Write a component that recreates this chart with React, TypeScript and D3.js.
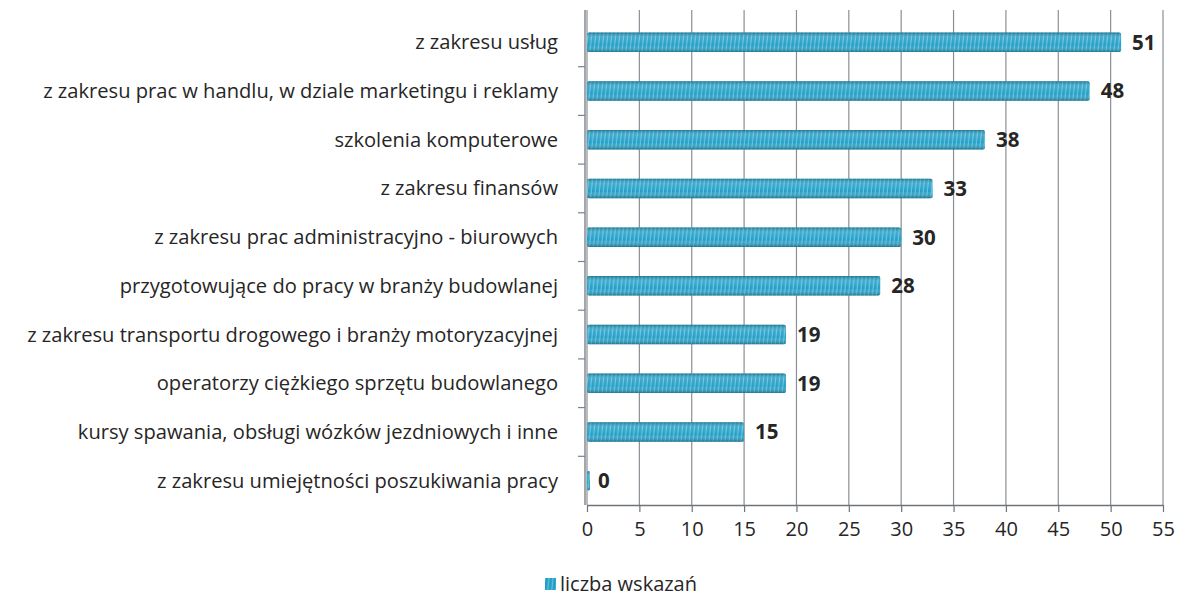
import { useEffect, useRef } from 'react';
import * as d3 from 'd3';

// categories, top to bottom
const categories = [
  'z zakresu usług',
  'z zakresu prac w handlu, w dziale marketingu i reklamy',
  'szkolenia komputerowe',
  'z zakresu finansów',
  'z zakresu prac administracyjno - biurowych',
  'przygotowujące do pracy w branży budowlanej',
  'z zakresu transportu drogowego i branży motoryzacyjnej',
  'operatorzy ciężkiego sprzętu budowlanego',
  'kursy spawania, obsługi wózków jezdniowych i inne',
  'z zakresu umiejętności poszukiwania pracy',
];
const values = [51, 48, 38, 33, 30, 28, 19, 19, 15, 0];
const xTicks = [0, 5, 10, 15, 20, 25, 30, 35, 40, 45, 50, 55];
const seriesName = 'liczba wskazań';

const width = 1181;
const height = 609;
const font = 'Open Sans, sans-serif';
const textColor = '#262626';

const App = () => {
  const svgRef = useRef<SVGSVGElement | null>(null);

  useEffect(() => {
    const svg = d3.select(svgRef.current);
    svg.selectAll('*').remove();

    const margin = { top: 18, right: 18, bottom: 104, left: 587 };

    const x = d3.scaleLinear()
      .domain([0, 55])
      .range([margin.left, width - margin.right]);

    const y = d3.scaleBand()
      .domain(categories)
      .range([margin.top, height - margin.bottom])
      .paddingInner(0.6)
      .paddingOuter(0.3);

    const bottom = height - margin.bottom;

    // striped "spring" pattern + cylinder shading
    const defs = svg.append('defs');
    const pat = defs.append('pattern')
      .attr('id', 'stripes')
      .attr('patternUnits', 'userSpaceOnUse')
      .attr('width', 4)
      .attr('height', 20)
      .attr('patternTransform', 'skewX(-6)');
    pat.append('rect').attr('width', 4).attr('height', 20).attr('fill', '#239fc7');
    pat.append('rect').attr('x', 2.8).attr('width', 1.1).attr('height', 20).attr('fill', '#6cc6e0');

    const grad = defs.append('linearGradient')
      .attr('id', 'shade')
      .attr('x1', 0).attr('y1', 0).attr('x2', 0).attr('y2', 1);
    grad.append('stop').attr('offset', '0%').attr('stop-color', '#0a4e66').attr('stop-opacity', 0.5);
    grad.append('stop').attr('offset', '30%').attr('stop-color', '#ffffff').attr('stop-opacity', 0.12);
    grad.append('stop').attr('offset', '65%').attr('stop-color', '#ffffff').attr('stop-opacity', 0);
    grad.append('stop').attr('offset', '100%').attr('stop-color', '#0a4e66').attr('stop-opacity', 0.55);

    // gridlines
    svg.append('g')
      .selectAll('line')
      .data(xTicks)
      .join('line')
      .attr('x1', (d) => x(d))
      .attr('x2', (d) => x(d))
      .attr('y1', 10)
      .attr('y2', bottom)
      .attr('stroke', '#8a8f96')
      .attr('stroke-width', 1.2);

    // left axis line + ticks between categories
    svg.append('line')
      .attr('x1', x(0) - 2).attr('x2', x(0) - 2)
      .attr('y1', 10).attr('y2', bottom)
      .attr('stroke', '#7d8288').attr('stroke-width', 1.4);

    const sep = categories.map((c) => (y(c) ?? 0) - (y.step() - y.bandwidth()) / 2);
    svg.append('g')
      .selectAll('line')
      .data(sep.slice(1))
      .join('line')
      .attr('x1', x(0) - 9).attr('x2', x(0) - 2)
      .attr('y1', (d) => d).attr('y2', (d) => d)
      .attr('stroke', '#7d8288').attr('stroke-width', 1.2);

    // bottom axis
    const xAxis = svg.append('g')
      .attr('transform', `translate(0, ${bottom})`)
      .call(d3.axisBottom(x).tickValues(xTicks).tickSize(7).tickPadding(10).tickSizeOuter(0));
    xAxis.select('.domain').attr('stroke', '#6f747a').attr('stroke-width', 1.4);
    xAxis.selectAll('.tick line').attr('stroke', '#6f747a').attr('stroke-width', 1.2);
    xAxis.selectAll('.tick text')
      .attr('font-family', font)
      .attr('font-size', 20)
      .attr('fill', textColor);

    // bars
    const rows = categories.map((c, i) => ({ name: c, value: values[i] }));
    const barW = (d: { value: number }) => Math.max(x(d.value) - x(0), 3);

    const bars = svg.append('g');
    bars.selectAll('rect.fill')
      .data(rows)
      .join('rect')
      .attr('class', 'fill')
      .attr('x', x(0))
      .attr('y', (d) => y(d.name) ?? 0)
      .attr('width', barW)
      .attr('height', y.bandwidth())
      .attr('rx', 2)
      .attr('fill', 'url(#stripes)');
    bars.selectAll('rect.shade')
      .data(rows)
      .join('rect')
      .attr('class', 'shade')
      .attr('x', x(0))
      .attr('y', (d) => y(d.name) ?? 0)
      .attr('width', barW)
      .attr('height', y.bandwidth())
      .attr('rx', 2)
      .attr('fill', 'url(#shade)');

    // value labels
    svg.append('g')
      .selectAll('text')
      .data(rows)
      .join('text')
      .attr('x', (d) => x(d.value) + 11)
      .attr('y', (d) => (y(d.name) ?? 0) + y.bandwidth() / 2)
      .attr('dy', '0.36em')
      .attr('font-family', font)
      .attr('font-weight', 'bold')
      .attr('font-size', 20.5)
      .attr('fill', textColor)
      .text((d) => d.value);

    // category labels, sized so the longest spans ~531px like the original
    const labels = svg.append('g')
      .selectAll('text')
      .data(rows)
      .join('text')
      .attr('x', 558)
      .attr('y', (d) => (y(d.name) ?? 0) + y.bandwidth() / 2)
      .attr('dy', '0.35em')
      .attr('text-anchor', 'end')
      .attr('font-family', font)
      .attr('font-size', 16)
      .attr('fill', textColor)
      .text((d) => d.name);
    let longest = 0;
    labels.each(function () {
      longest = Math.max(longest, (this as SVGTextElement).getComputedTextLength());
    });
    if (longest > 0) labels.attr('font-size', Math.min(21, (16 * 531) / longest));

    // legend
    const lg = svg.append('g').attr('transform', 'translate(545, 584)');
    lg.append('rect')
      .attr('x', 0).attr('y', -6)
      .attr('width', 11).attr('height', 12)
      .attr('fill', 'url(#stripes)');
    lg.append('text')
      .attr('x', 15)
      .attr('y', 0)
      .attr('dy', '0.35em')
      .attr('font-family', font)
      .attr('font-size', 20)
      .attr('fill', textColor)
      .text(seriesName);
  }, []);

  return (
    <svg
      ref={svgRef}
      width={width}
      height={height}
      style={{ position: 'absolute', left: 0, top: 0, background: '#fff' }}
    />
  );
};

export default App;
